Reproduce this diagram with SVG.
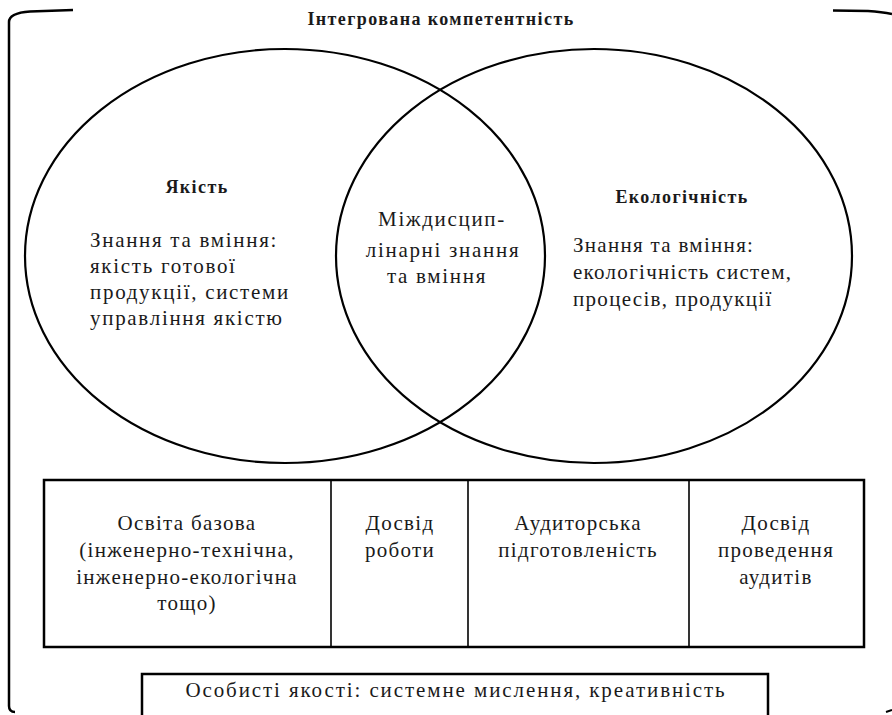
<svg xmlns="http://www.w3.org/2000/svg" width="892" height="715" viewBox="0 0 892 715">
  <style>
    .ln { fill: none; stroke: #000; }
    .t { font-family: 'Liberation Serif', 'DejaVu Serif', serif; font-size: 21px; fill: #1a1a1a; letter-spacing: 1.7px; }
    .s { letter-spacing: 1.3px; }
    .c { text-anchor: middle; }
    .b { font-weight: bold; font-size: 18px; letter-spacing: 1.4px; }
  </style>
  <rect width="892" height="715" fill="#fff"/>

  <!-- outer bracket -->
  <g id="bracket">
    <path class="ln" stroke-width="2.5" d="M73 10 L30 11.5 Q9 13 9 22 L9 706 Q9 712 15 712"/>
    <path class="ln" stroke-width="2.5" d="M833 10.5 L868 11 Q882 12 892 14"/>
    <path class="ln" stroke-width="2" d="M886 712 L892 710"/>
    <text class="t c b" x="441" y="25">Інтегрована компетентність</text>
  </g>

  <!-- Venn circles -->
  <g id="quality">
    <ellipse class="ln" stroke-width="2.2" cx="285" cy="256" rx="260" ry="207"/>
    <text class="t c b" x="197" y="193">Якість</text>
    <text class="t" x="90" y="247">Знання та вміння:</text>
    <text class="t" x="90" y="273">якість готової</text>
    <text class="t" x="90" y="299">продукції, системи</text>
    <text class="t" x="90" y="325">управління якістю</text>
  </g>
  <g id="ecology">
    <ellipse class="ln" stroke-width="2.2" cx="594" cy="256" rx="258" ry="207"/>
    <text class="t c b" x="682" y="203">Екологічність</text>
    <text class="t s" x="573" y="252">Знання та вміння:</text>
    <text class="t s" x="573" y="279">екологічність систем,</text>
    <text class="t s" x="573" y="306">процесів, продукції</text>
  </g>
  <g id="overlap">
    <text class="t c" x="442" y="226">Міждисцип-</text>
    <text class="t c" x="443" y="257">лінарні знання</text>
    <text class="t c" x="437" y="283">та вміння</text>
  </g>

  <!-- table of components -->
  <g id="components">
    <rect class="ln" stroke-width="2.5" x="44" y="480" width="820" height="167"/>
    <line class="ln" stroke-width="1.6" x1="331" y1="480" x2="331" y2="647"/>
    <line class="ln" stroke-width="1.6" x1="468" y1="480" x2="468" y2="647"/>
    <line class="ln" stroke-width="1.6" x1="689" y1="480" x2="689" y2="647"/>
  </g>
  <g id="education">
    <text class="t s c" x="187" y="530">Освіта базова</text>
    <text class="t s c" x="187" y="557">(інженерно-технічна,</text>
    <text class="t s c" x="187" y="584">інженерно-екологічна</text>
    <text class="t s c" x="187" y="610">тощо)</text>
  </g>
  <g id="work">
    <text class="t s c" x="400" y="530">Досвід</text>
    <text class="t s c" x="400" y="557">роботи</text>
  </g>
  <g id="audit-prep">
    <text class="t s c" x="578" y="530">Аудиторська</text>
    <text class="t s c" x="578" y="557">підготовленість</text>
  </g>
  <g id="audit-exp">
    <text class="t s c" x="776" y="530">Досвід</text>
    <text class="t s c" x="776" y="557">проведення</text>
    <text class="t s c" x="776" y="584">аудитів</text>
  </g>

  <!-- personal qualities -->
  <g id="personal">
    <path class="ln" stroke-width="2.5" d="M142 720 L142 674 L768 674 L768 720"/>
    <text class="t c" x="456" y="697" style="letter-spacing:1.9px">Особисті якості: системне мислення, креативність</text>
  </g>
</svg>
